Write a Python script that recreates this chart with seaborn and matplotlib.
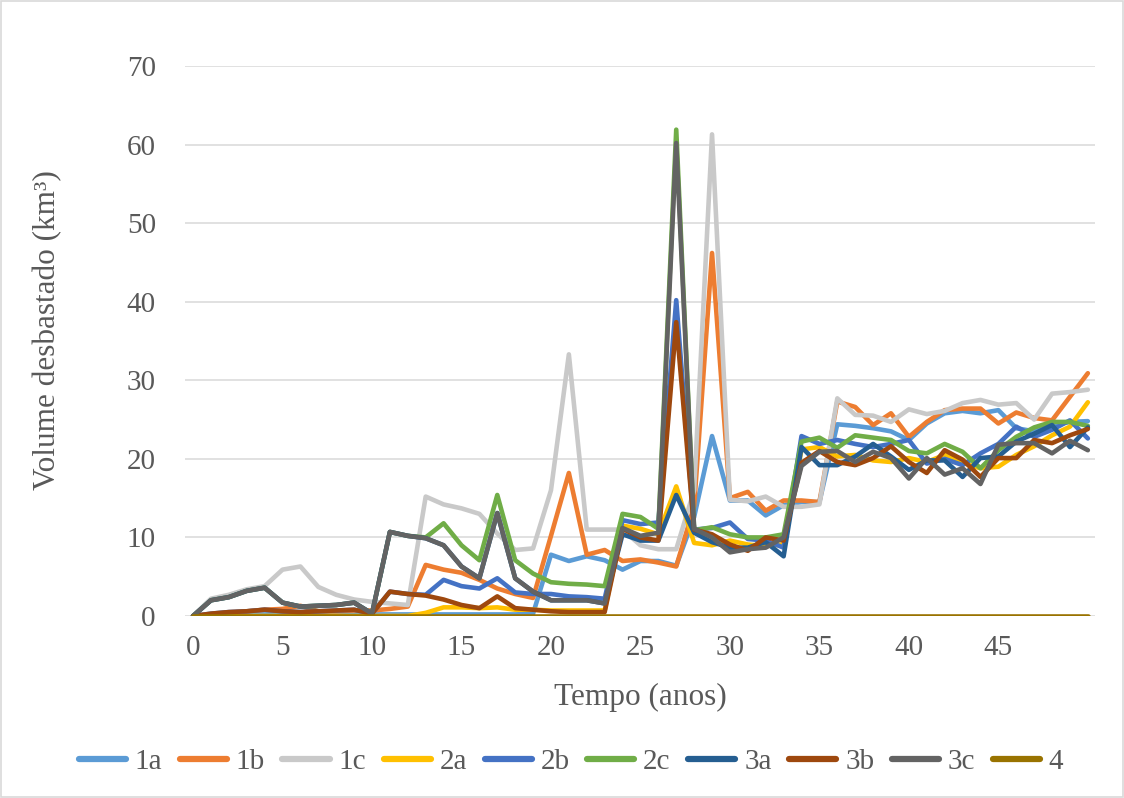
import numpy as np
import pandas as pd
import matplotlib
matplotlib.use("Agg")
import matplotlib.pyplot as plt
import seaborn as sns
from matplotlib.patches import Rectangle

years = list(range(0, 51))
series_names = ["1a", "1b", "1c", "2a", "2b", "2c", "3a", "3b", "3c", "4"]
series_colors = ["#5B9BD5", "#ED7D31", "#C9C9C9", "#FFC000", "#4472C4",
                 "#70AD47", "#255E91", "#9E480E", "#636363", "#997300"]

s1a = [0, 0.1, 0.1, 0.1, 0.2, 0.2, 0.2, 0.2, 0.2, 0.2, 0.2, 0.2, 0.2, 0.2, 0.2, 0.2, 0.2, 0.2, 0.2, 0.3,
       7.8, 7.0, 7.6, 7.1, 5.9, 7.0, 7.0, 6.4, 12.6, 22.9, 14.7, 14.7, 12.8, 14.1, 14.5, 14.5,
       24.4, 24.2, 23.9, 23.5, 22.4, 24.5, 25.8, 26.1, 25.8, 26.2, 23.9, 23.5, 24.3, 24.7, 24.8]
s1b = [0, 0.2, 0.4, 0.6, 0.8, 0.9, 1.3, 0.6, 0.6, 0.7, 0.7, 0.9, 1.2, 6.5, 5.9, 5.5, 4.6, 3.5, 2.8, 2.3,
       10.2, 18.2, 7.8, 8.4, 7.0, 7.2, 6.8, 6.3, 14.0, 46.2, 15.0, 15.8, 13.4, 14.7, 14.7, 14.5,
       27.3, 26.6, 24.3, 25.8, 22.8, 24.7, 26.2, 26.4, 26.4, 24.5, 25.9, 25.2, 24.9, 27.9, 30.9]
s1c = [0, 2.2, 2.7, 3.4, 3.8, 5.9, 6.3, 3.7, 2.7, 2.1, 1.8, 1.6, 1.4, 15.2, 14.2, 13.7, 13.0, 10.5, 8.4, 8.6,
       16.0, 33.3, 11.0, 11.0, 11.0, 9.0, 8.5, 8.5, 16.0, 61.3, 14.8, 14.6, 15.2, 13.9, 13.9, 14.2,
       27.7, 25.6, 25.5, 24.7, 26.3, 25.7, 26.1, 27.1, 27.5, 26.9, 27.1, 25.0, 28.3, 28.5, 28.8]
s2a = [0, 0, 0, 0, 0, 0, 0, 0, 0, 0, 0, 0, 0, 0.4, 1.1, 1.1, 1.0, 1.1, 0.8, 0.8,
       0.7, 0.7, 0.7, 0.7, 11.5, 11.1, 10.4, 16.5, 9.3, 9.0, 9.6, 9.1, 8.9, 9.1, 21.2, 21.5,
       20.3, 20.5, 19.8, 19.6, 20.1, 19.6, 20.5, 19.5, 18.8, 19.0, 20.5, 21.6, 23.0, 24.1, 27.2]
s2b = [0, 0.3, 0.5, 0.6, 0.8, 0.6, 0.5, 0.6, 0.7, 0.8, 0.3, 3.1, 2.8, 2.7, 4.6, 3.8, 3.5, 4.8, 3.0, 2.8,
       2.8, 2.5, 2.4, 2.2, 12.2, 11.7, 11.9, 40.2, 11.0, 11.2, 11.9, 9.8, 9.6, 8.7, 22.9, 21.9,
       22.4, 21.9, 21.5, 21.9, 22.4, 19.4, 20.0, 19.2, 20.7, 21.9, 24.1, 22.8, 23.7, 24.9, 22.6]
s2c = [0, 2.0, 2.4, 3.2, 3.6, 1.7, 1.2, 1.3, 1.4, 1.7, 0.3, 10.7, 10.2, 10.0, 11.8, 9.0, 7.1, 15.4, 7.1, 5.4,
       4.3, 4.1, 4.0, 3.8, 13.0, 12.6, 11.1, 61.9, 10.9, 11.3, 10.4, 10.0, 10.0, 10.4, 22.2, 22.7,
       21.4, 23.0, 22.7, 22.4, 21.0, 20.7, 21.9, 20.9, 18.8, 21.1, 22.8, 24.0, 24.7, 24.7, 24.2]
s3a = [0, 2.0, 2.4, 3.2, 3.6, 1.7, 1.2, 1.3, 1.4, 1.7, 0.3, 10.7, 10.2, 9.9, 9.0, 6.3, 4.8, 13.1, 4.8, 3.1,
       2.0, 2.0, 2.0, 1.6, 10.4, 9.6, 9.6, 15.4, 10.6, 9.4, 8.7, 8.7, 9.4, 7.6, 21.5, 19.2,
       19.2, 20.3, 21.9, 20.3, 18.6, 19.8, 19.8, 17.7, 20.1, 20.3, 22.2, 23.2, 24.3, 21.5, 24.0]
s3b = [0, 0.3, 0.5, 0.6, 0.8, 0.6, 0.5, 0.6, 0.7, 0.8, 0.3, 3.1, 2.8, 2.6, 2.1, 1.4, 1.0, 2.5, 1.0, 0.8,
       0.6, 0.5, 0.5, 0.5, 11.1, 10.0, 9.6, 37.4, 11.0, 10.4, 9.1, 8.3, 10.0, 9.6, 19.5, 21.0,
       19.6, 19.2, 20.1, 21.6, 19.6, 18.2, 21.1, 19.9, 17.7, 20.1, 20.1, 22.4, 22.0, 23.0, 23.8]
s3c = [0, 2.0, 2.4, 3.2, 3.6, 1.7, 1.2, 1.3, 1.4, 1.7, 0.3, 10.7, 10.2, 9.9, 9.0, 6.3, 4.8, 13.1, 4.8, 3.1,
       2.0, 2.0, 2.0, 1.6, 11.2, 10.2, 10.6, 60.2, 11.1, 10.0, 8.1, 8.5, 8.7, 10.0, 19.1, 20.9,
       21.0, 19.6, 20.9, 20.1, 17.5, 20.1, 18.0, 18.8, 16.8, 21.8, 22.0, 22.0, 20.7, 22.3, 21.1]
s4 = [0] * 51

y_ticks = [0, 10, 20, 30, 40, 50, 60, 70]
x_ticks = [0, 5, 10, 15, 20, 25, 30, 35, 40, 45]

values = [s1a, s1b, s1c, s2a, s2b, s2c, s3a, s3b, s3c, s4]
frames = []
for name, vals in zip(series_names, values):
    frames.append(pd.DataFrame({"Tempo": years, "Volume": vals, "Série": name}))
df = pd.concat(frames, ignore_index=True)

sns.set_theme(style="white")
plt.rcParams["font.family"] = ["Liberation Serif", "DejaVu Serif"]
text_color = "#595959"

fig = plt.figure(figsize=(11.24, 7.98), dpi=100)
ax = fig.add_axes([185 / 1124, 1 - 616 / 798, 910 / 1124, 550 / 798])

sns.lineplot(data=df, x="Tempo", y="Volume", hue="Série", hue_order=series_names,
             palette=dict(zip(series_names, series_colors)), estimator=None,
             linewidth=3.3, solid_capstyle="round", solid_joinstyle="round", ax=ax)

ax.set_xlim(-0.45, 50.4)
ax.set_ylim(0, 70)
ax.set_xticks(x_ticks)
ax.set_yticks(y_ticks)
ax.tick_params(axis="both", length=0, labelsize=21, colors=text_color)
ax.tick_params(axis="x", pad=14)
ax.tick_params(axis="y", pad=21)
ax.grid(axis="y", color="#D9D9D9", linewidth=1.1)
ax.grid(axis="x", visible=False)
ax.set_axisbelow(True)
for sp in ax.spines.values():
    sp.set_visible(False)

ax.set_xlabel("Tempo (anos)", fontsize=22.5, color=text_color)
ax.set_ylabel("Volume desbastado (km³)", fontsize=22.5, color=text_color)
ax.xaxis.set_label_coords(0.5, -0.122)
ax.yaxis.set_label_coords(-0.135, 0.52)

sns.move_legend(ax, "center", bbox_to_anchor=(0.508, 1 - 762 / 798),
                bbox_transform=fig.transFigure, ncol=10, frameon=False, title=None,
                fontsize=21, handlelength=1.62, handletextpad=0.3, columnspacing=0.6)
leg = ax.get_legend()
for t in leg.get_texts():
    t.set_color(text_color)
for h in leg.get_lines():
    h.set_linewidth(4.5)
    h.set_solid_capstyle("round")

fig.patches.append(Rectangle((0.001, 0.001), 0.998, 0.998, transform=fig.transFigure,
                             fill=False, edgecolor="#D9D9D9", linewidth=1.2))

fig.savefig("out.png", dpi=100, facecolor="white")
